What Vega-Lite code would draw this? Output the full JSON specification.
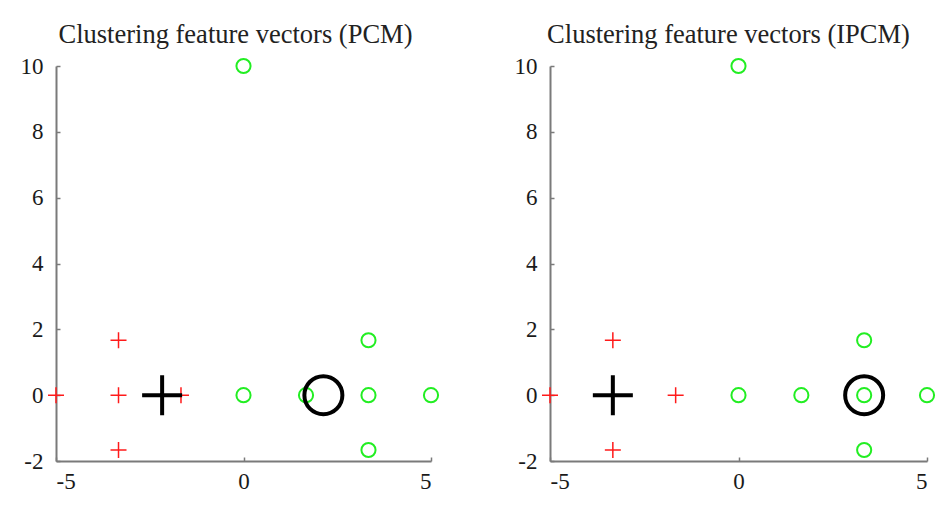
{
  "$schema": "https://vega.github.io/schema/vega-lite/v6.json",
  "background": "white",
  "padding": {"left": 20, "top": 22, "right": 4, "bottom": 8},
  "spacing": 71,
  "datasets": {
    "pts": [
      {"panel": "PCM", "kind": "cluster1", "x": -5, "y": 0},
      {"panel": "PCM", "kind": "cluster1", "x": -3.333, "y": 1.667},
      {"panel": "PCM", "kind": "cluster1", "x": -3.333, "y": 0},
      {"panel": "PCM", "kind": "cluster1", "x": -3.333, "y": -1.667},
      {"panel": "PCM", "kind": "cluster1", "x": -1.667, "y": 0},
      {"panel": "PCM", "kind": "cluster2", "x": 0, "y": 10},
      {"panel": "PCM", "kind": "cluster2", "x": 0, "y": 0},
      {"panel": "PCM", "kind": "cluster2", "x": 1.667, "y": 0},
      {"panel": "PCM", "kind": "cluster2", "x": 3.333, "y": 1.667},
      {"panel": "PCM", "kind": "cluster2", "x": 3.333, "y": 0},
      {"panel": "PCM", "kind": "cluster2", "x": 3.333, "y": -1.667},
      {"panel": "PCM", "kind": "cluster2", "x": 5, "y": 0},
      {"panel": "PCM", "kind": "center1", "x": -2.17, "y": 0},
      {"panel": "PCM", "kind": "center2", "x": 2.13, "y": 0},
      {"panel": "IPCM", "kind": "cluster1", "x": -5, "y": 0},
      {"panel": "IPCM", "kind": "cluster1", "x": -3.333, "y": 1.667},
      {"panel": "IPCM", "kind": "cluster1", "x": -3.333, "y": 0},
      {"panel": "IPCM", "kind": "cluster1", "x": -3.333, "y": -1.667},
      {"panel": "IPCM", "kind": "cluster1", "x": -1.667, "y": 0},
      {"panel": "IPCM", "kind": "cluster2", "x": 0, "y": 10},
      {"panel": "IPCM", "kind": "cluster2", "x": 0, "y": 0},
      {"panel": "IPCM", "kind": "cluster2", "x": 1.667, "y": 0},
      {"panel": "IPCM", "kind": "cluster2", "x": 3.333, "y": 1.667},
      {"panel": "IPCM", "kind": "cluster2", "x": 3.333, "y": 0},
      {"panel": "IPCM", "kind": "cluster2", "x": 3.333, "y": -1.667},
      {"panel": "IPCM", "kind": "cluster2", "x": 5, "y": 0},
      {"panel": "IPCM", "kind": "center1", "x": -3.333, "y": 0},
      {"panel": "IPCM", "kind": "center2", "x": 3.333, "y": 0}
    ]
  },
  "hconcat": [
    {
      "width": 375,
      "height": 395,
      "title": {"text": "Clustering feature vectors (PCM)", "dx": -8},
      "data": {"name": "pts"},
      "transform": [{"filter": "datum.panel === 'PCM'"}],
      "encoding": {
        "x": {"field": "x", "type": "quantitative", "scale": {"domain": [-5, 5], "nice": false, "zero": false}, "axis": {"values": [-5, 0, 5], "title": null}},
        "y": {"field": "y", "type": "quantitative", "scale": {"domain": [-2, 10], "nice": false, "zero": false}, "axis": {"values": [-2, 0, 2, 4, 6, 8, 10], "title": null}}
      },
      "layer": [
        {"transform": [{"filter": "datum.kind === 'cluster1'"}], "mark": {"type": "point", "shape": "M-1,0H1M0,-1V1", "size": 256, "filled": false, "color": "#ff1a1a", "strokeWidth": 1.5, "opacity": 1}},
        {"transform": [{"filter": "datum.kind === 'cluster2'"}], "mark": {"type": "point", "shape": "circle", "size": 200, "filled": false, "color": "#22ee22", "strokeWidth": 2, "opacity": 1}},
        {"transform": [{"filter": "datum.kind === 'center1'"}], "mark": {"type": "point", "shape": "M-1,0H1M0,-1V1", "size": 1600, "filled": false, "color": "#000000", "strokeWidth": 4, "opacity": 1}},
        {"transform": [{"filter": "datum.kind === 'center2'"}], "mark": {"type": "point", "shape": "circle", "size": 1444, "filled": false, "color": "#000000", "strokeWidth": 4, "opacity": 1}}
      ]
    },
    {
      "width": 377,
      "height": 395,
      "title": {"text": "Clustering feature vectors (IPCM)", "dx": -10},
      "data": {"name": "pts"},
      "transform": [{"filter": "datum.panel === 'IPCM'"}],
      "encoding": {
        "x": {"field": "x", "type": "quantitative", "scale": {"domain": [-5, 5], "nice": false, "zero": false}, "axis": {"values": [-5, 0, 5], "title": null}},
        "y": {"field": "y", "type": "quantitative", "scale": {"domain": [-2, 10], "nice": false, "zero": false}, "axis": {"values": [-2, 0, 2, 4, 6, 8, 10], "title": null}}
      },
      "layer": [
        {"transform": [{"filter": "datum.kind === 'cluster1'"}], "mark": {"type": "point", "shape": "M-1,0H1M0,-1V1", "size": 256, "filled": false, "color": "#ff1a1a", "strokeWidth": 1.5, "opacity": 1}},
        {"transform": [{"filter": "datum.kind === 'cluster2'"}], "mark": {"type": "point", "shape": "circle", "size": 200, "filled": false, "color": "#22ee22", "strokeWidth": 2, "opacity": 1}},
        {"transform": [{"filter": "datum.kind === 'center1'"}], "mark": {"type": "point", "shape": "M-1,0H1M0,-1V1", "size": 1600, "filled": false, "color": "#000000", "strokeWidth": 4, "opacity": 1}},
        {"transform": [{"filter": "datum.kind === 'center2'"}], "mark": {"type": "point", "shape": "circle", "size": 1444, "filled": false, "color": "#000000", "strokeWidth": 4, "opacity": 1}}
      ]
    }
  ],
  "config": {
    "view": {"stroke": null},
    "axis": {
      "grid": false,
      "domainColor": "#7a7a7a",
      "domainWidth": 2,
      "tickColor": "#7a7a7a",
      "tickWidth": 1.5,
      "tickSize": -4,
      "labelFont": "Liberation Serif",
      "labelFontSize": 23,
      "labelColor": "#1a1a1a",
      "labelExpr": "datum.value < 0 ? '-' + abs(datum.value) : '' + datum.value"
    },
    "axisX": {"labelAngle": 0, "labelPadding": 13},
    "axisY": {"labelPadding": 17},
    "title": {"font": "Liberation Serif", "fontSize": 26.5, "fontWeight": "normal", "color": "#222222", "anchor": "middle", "offset": 6}
  }
}
